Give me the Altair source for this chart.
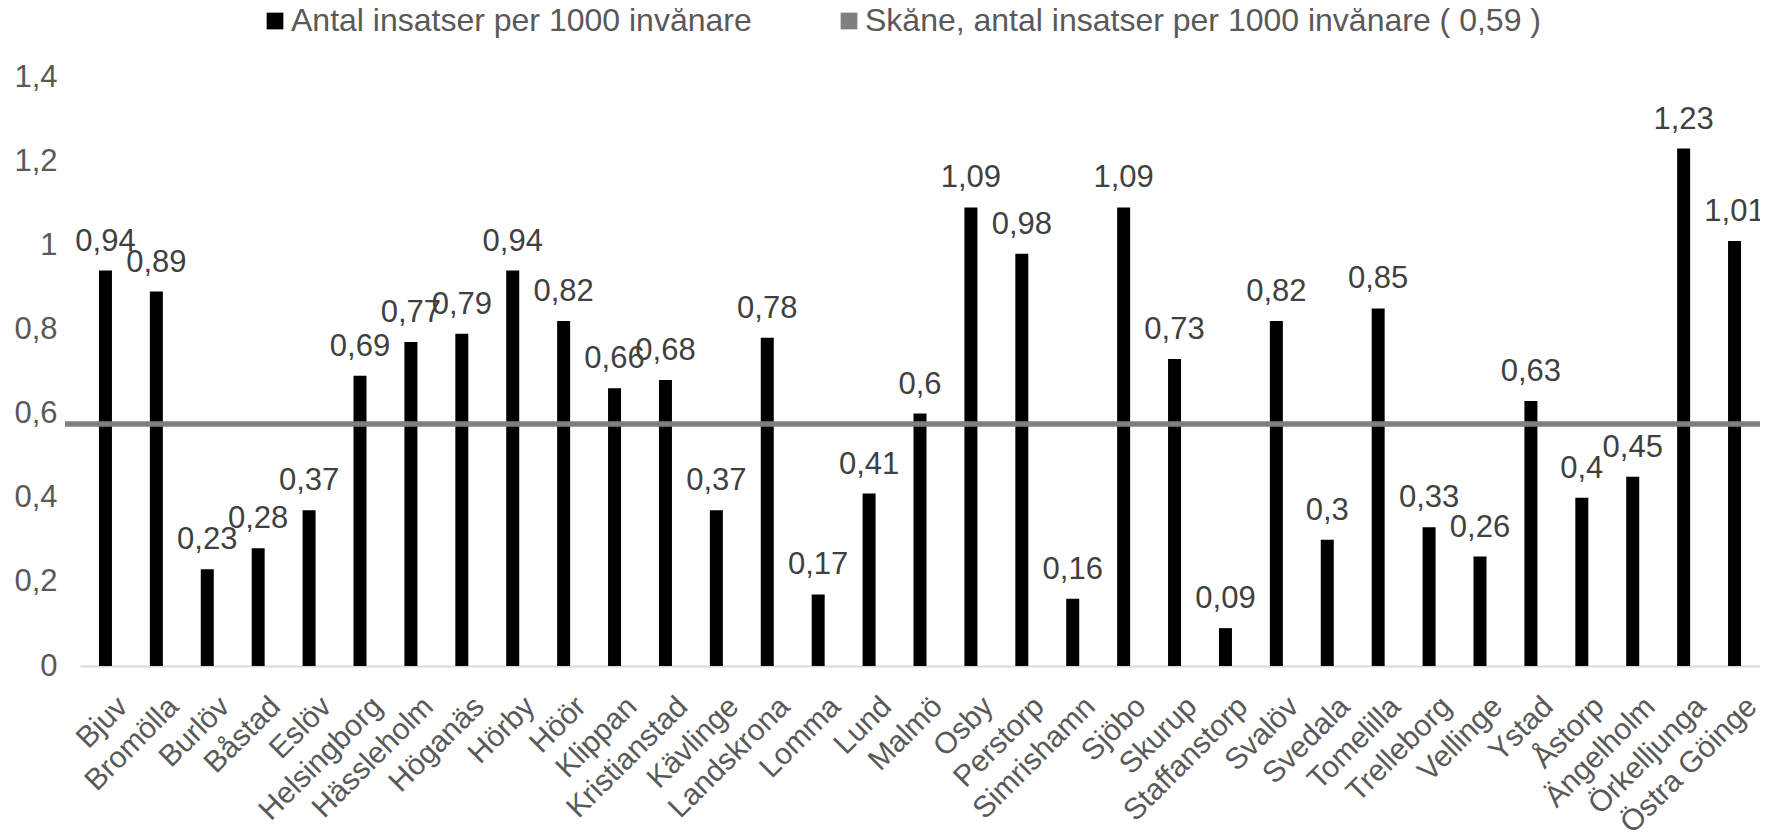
import altair as alt
import pandas as pd

kommuner = ["Bjuv", "Bromölla", "Burlöv", "Båstad", "Eslöv", "Helsingborg", "Hässleholm",
            "Höganäs", "Hörby", "Höör", "Klippan", "Kristianstad", "Kävlinge", "Landskrona",
            "Lomma", "Lund", "Malmö", "Osby", "Perstorp", "Simrishamn", "Sjöbo", "Skurup",
            "Staffanstorp", "Svalöv", "Svedala", "Tomelilla", "Trelleborg", "Vellinge",
            "Ystad", "Åstorp", "Ängelholm", "Örkelljunga", "Östra Göinge"]
insatser = [0.94, 0.89, 0.23, 0.28, 0.37, 0.69, 0.77,
            0.79, 0.94, 0.82, 0.66, 0.68, 0.37, 0.78,
            0.17, 0.41, 0.6, 1.09, 0.98, 0.16, 1.09, 0.73,
            0.09, 0.82, 0.3, 0.85, 0.33, 0.26,
            0.63, 0.4, 0.45, 1.23, 1.01]
skane_label_value = "0,59"
skane_line_value = 0.575  # position of the grey line

serie1 = "Antal insatser per 1000 invånare"
serie2 = f"Skåne, antal insatser per 1000 invånare ( {skane_label_value} )"
y_ticks = [0, 0.2, 0.4, 0.6, 0.8, 1.0, 1.2, 1.4]

W, H = 1680, 589
FONT = "Liberation Sans"

df = pd.DataFrame({
    "kommun": kommuner,
    "varde": insatser,
    "etikett": [str(v).replace(".", ",") for v in insatser],
    "serie": [serie1] * len(kommuner),
})
df_line = pd.DataFrame({"varde": [skane_line_value], "serie": [serie2]})

color_scale = alt.Scale(domain=[serie1, serie2], range=["#000000", "#7f7f7f"])

x_enc = alt.X("kommun:N", sort=None, title=None,
              axis=alt.Axis(labelAngle=-45, labelAlign="right", labelBaseline="top",
                            labelFontSize=30, labelColor="#595959", labelFont=FONT,
                            labelPadding=25, labelOffset=7, ticks=False,
                            domainColor="#d9d9d9", domainWidth=2, labelLimit=400))
y_scale = alt.Scale(domain=[0, 1.4], nice=False)
y_axis = alt.Axis(values=y_ticks, grid=False, domain=False, ticks=False,
                  labelFontSize=31, labelColor="#595959", labelFont=FONT, labelPadding=23,
                  labelExpr="replace(format(datum.value, '.1~f'), '.', ',')")

bars = alt.Chart(df).mark_bar(size=13).encode(
    x=x_enc,
    y=alt.Y("varde:Q", scale=y_scale, axis=y_axis, title=None),
    color=alt.Color("serie:N", scale=color_scale, title=None,
                    legend=alt.Legend(orient="none", direction="horizontal", legendX=179, legendY=-72,
                                      symbolType="square", symbolSize=280, symbolStrokeWidth=0,
                                      labelFontSize=32, labelColor="#595959", labelFont=FONT,
                                      labelOffset=0, columnPadding=81, labelLimit=1000)),
)

labels = alt.Chart(df).mark_text(baseline="alphabetic", dy=-20, fontSize=31,
                                  color="#404040", font=FONT).encode(
    x=alt.X("kommun:N", sort=None),
    y=alt.Y("varde:Q", scale=y_scale),
    text="etikett:N",
)

line = alt.Chart(df_line).mark_rule(strokeWidth=5.5).encode(
    y=alt.Y("varde:Q", scale=y_scale),
    x=alt.value(-15),
    x2=alt.value(W),
    color=alt.Color("serie:N", scale=color_scale),
)

chart = alt.layer(bars, line, labels).properties(
    width=W, height=H,
    autosize=alt.AutoSizeParams(type="none"),
    padding={"left": 72, "top": 69, "right": 0, "bottom": 168},
    background="white",
).configure_view(stroke=None)

chart.save("out.html", embed_options={"renderer": "svg", "actions": False})
